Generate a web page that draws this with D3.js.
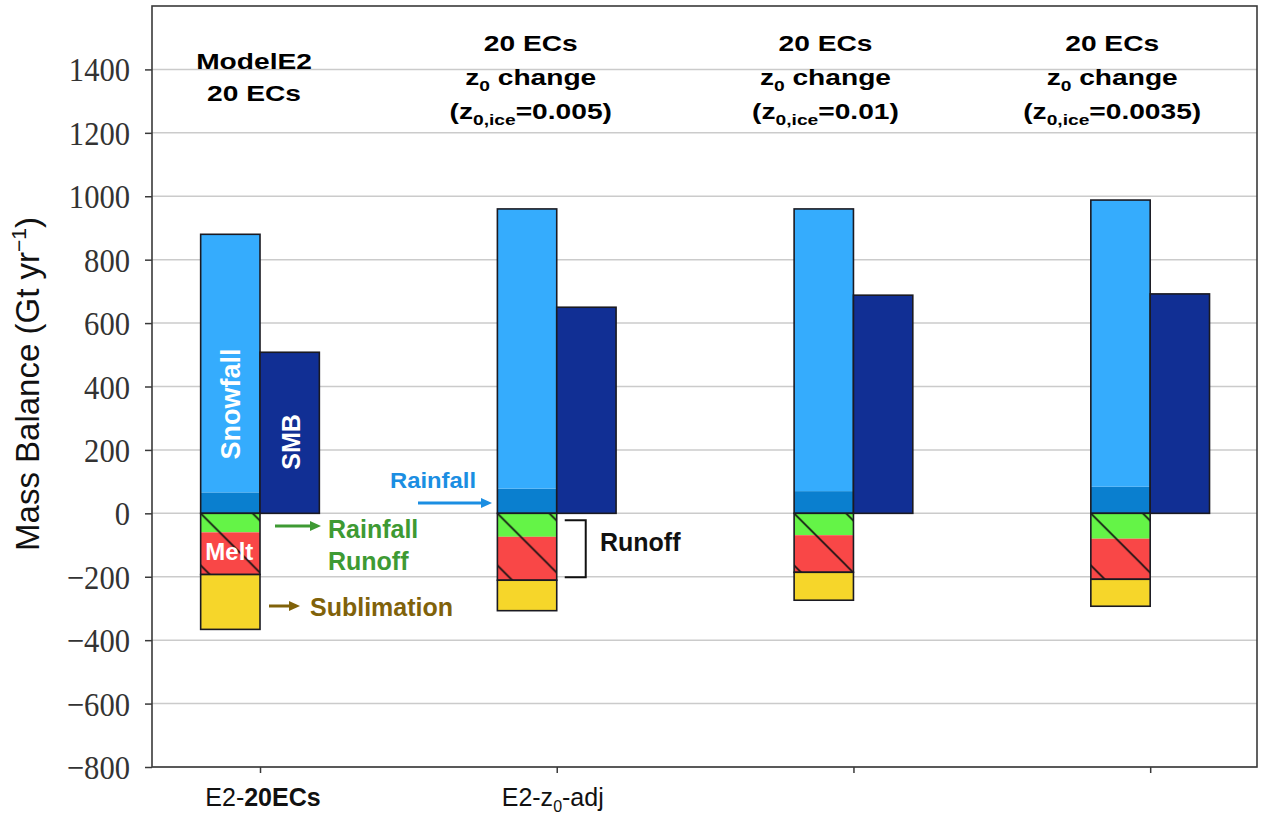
<!DOCTYPE html>
<html>
<head>
<meta charset="utf-8">
<script src="https://cdn.jsdelivr.net/npm/d3@7"></script>
<style>
  html, body { margin: 0; padding: 0; background: #ffffff; }
  svg { display: block; }
  .ytick text { font-family: "Liberation Serif", "DejaVu Serif", serif !important; font-size: 34px !important; }
</style>
</head>
<body>
<svg id="chart" width="1269" height="814"></svg>
<script>
// ---- data (Gt/yr) ----
const experiments = ["E2-20ECs", "E2-z0-adj", "", ""];
const snowfall = [814, 882, 890, 904];
const rainfall = [66, 78, 70, 84];
const smb = [508, 650, 688, 692];
const rainfallRunoff = [60, 74, 69, 80];
const meltRunoff = [133, 137, 117, 128];
const sublimation = [173, 96, 88, 85];
const yTicks = [-800, -600, -400, -200, 0, 200, 400, 600, 800, 1000, 1200, 1400];
const titles = [
  ["ModelE2", "20 ECs"],
  ["20 ECs", "z_{0} change", "(z_{0,ice}=0.005)"],
  ["20 ECs", "z_{0} change", "(z_{0,ice}=0.01)"],
  ["20 ECs", "z_{0} change", "(z_{0,ice}=0.0035)"]
];

// ---- colours ----
const C = {
  snow: "#35acfd", rain: "#0a7fcf", smb: "#112f94",
  green: "#64f447", red: "#f94747", yellow: "#f6d62a",
  edge: "#1a1a22", grid: "#cbcbcb", axis: "#3a3a3a",
  rainTxt: "#1b8ee2", runoffTxt: "#3e9a33", sublTxt: "#80620a"
};

const svg = d3.select("#chart");
const L = 152, R = 1257, T = 6, B = 767;
const x = d3.scaleLinear().domain([-0.364, 3.36]).range([L, R]);
const y = d3.scaleLinear().domain([-800, 1600]).range([B, T]);
const bw = 0.2; // bar width in category units

// parse "text_{sub}" into segments
function segs(s) {
  const out = [];
  const re = /_\{([^}]*)\}/g;
  let last = 0, m;
  while ((m = re.exec(s)) !== null) {
    if (m.index > last) out.push({ t: s.slice(last, m.index), sub: false });
    out.push({ t: m[1], sub: true });
    last = re.lastIndex;
  }
  if (last < s.length) out.push({ t: s.slice(last), sub: false });
  return out;
}
function addRich(textSel, s, subSize, shift) {
  let down = false;
  segs(s).forEach(p => {
    const ts = textSel.append("tspan").text(p.t);
    if (p.sub && !down) { ts.attr("font-size", subSize).attr("dy", shift); down = true; }
    else if (!p.sub && down) { ts.attr("dy", -shift); down = false; }
  });
}

// ---- hatch patterns (one per group, anchored at the runoff box corner) ----
const defs = svg.append("defs");
const hs = 52;
experiments.forEach((_, i) => {
  const p = defs.append("pattern")
    .attr("id", "hatch" + i)
    .attr("patternUnits", "userSpaceOnUse")
    .attr("x", x(i - bw)).attr("y", y(0))
    .attr("width", hs).attr("height", hs);
  p.append("path")
    .attr("d", `M-6,-6L${hs + 6},${hs + 6}M-6,${hs - 6}L6,${hs + 6}M${hs - 6},-6L${hs + 6},6`)
    .attr("stroke", "#111").attr("stroke-width", 1.6).attr("fill", "none");
});

// ---- grid ----
svg.append("g").selectAll("line").data(yTicks).join("line")
  .attr("x1", L).attr("x2", R)
  .attr("y1", d => y(d)).attr("y2", d => y(d))
  .attr("stroke", C.grid).attr("stroke-width", 1.5);

// ---- bars ----
const g = svg.append("g");
experiments.forEach((_, i) => {
  const x0 = x(i - bw), x1 = x(i), x2 = x(i + bw);
  const precip = rainfall[i] + snowfall[i];
  const runoff = rainfallRunoff[i] + meltRunoff[i];

  // precipitation column: rainfall at the base, snowfall above
  g.append("rect").attr("x", x0).attr("width", x1 - x0)
    .attr("y", y(rainfall[i])).attr("height", y(0) - y(rainfall[i]))
    .attr("fill", C.rain);
  g.append("rect").attr("x", x0).attr("width", x1 - x0)
    .attr("y", y(precip)).attr("height", y(rainfall[i]) - y(precip))
    .attr("fill", C.snow);
  g.append("rect").attr("x", x0).attr("width", x1 - x0)
    .attr("y", y(precip)).attr("height", y(0) - y(precip))
    .attr("fill", "none").attr("stroke", C.edge).attr("stroke-width", 1.6);

  // SMB
  g.append("rect").attr("x", x1).attr("width", x2 - x1)
    .attr("y", y(smb[i])).attr("height", y(0) - y(smb[i]))
    .attr("fill", C.smb).attr("stroke", C.edge).attr("stroke-width", 1.6);

  // runoff: rainfall runoff (green) over melt runoff (red), hatched
  g.append("rect").attr("x", x0).attr("width", x1 - x0)
    .attr("y", y(0)).attr("height", y(-rainfallRunoff[i]) - y(0))
    .attr("fill", C.green);
  g.append("rect").attr("x", x0).attr("width", x1 - x0)
    .attr("y", y(-rainfallRunoff[i])).attr("height", y(-runoff) - y(-rainfallRunoff[i]))
    .attr("fill", C.red);
  g.append("rect").attr("x", x0).attr("width", x1 - x0)
    .attr("y", y(0)).attr("height", y(-runoff) - y(0))
    .attr("fill", `url(#hatch${i})`).attr("stroke", C.edge).attr("stroke-width", 1.6);

  // sublimation
  g.append("rect").attr("x", x0).attr("width", x1 - x0)
    .attr("y", y(-runoff)).attr("height", y(-runoff - sublimation[i]) - y(-runoff))
    .attr("fill", C.yellow).attr("stroke", C.edge).attr("stroke-width", 1.6);
});

// ---- axes ----
const yAxis = d3.axisLeft(y).tickValues(yTicks).tickSize(7).tickPadding(15)
  .tickFormat(d => d < 0 ? "\u2212" + Math.abs(d) : String(d));
const ya = svg.append("g").attr("class", "ytick")
  .attr("transform", `translate(${L},0)`).call(yAxis);
ya.select(".domain").remove();
ya.selectAll(".tick line").attr("stroke", C.axis).attr("stroke-width", 1.5);
ya.selectAll(".tick text")
  .attr("fill", "#333")
  .attr("x", -22 / 0.9).attr("dy", "0.34em")
  .attr("transform", "scale(0.9,1)");

const xa = svg.append("g").attr("transform", `translate(0,${B})`)
  .call(d3.axisBottom(x).tickValues([0, 1, 2, 3]).tickSize(6).tickFormat(""));
xa.select(".domain").remove();
xa.selectAll(".tick line").attr("stroke", C.axis).attr("stroke-width", 1.5);

// frame
svg.append("rect").attr("x", L).attr("y", T).attr("width", R - L).attr("height", B - T)
  .attr("fill", "none").attr("stroke", C.axis).attr("stroke-width", 1.6);

// x tick labels
const xl = svg.append("g").attr("font-family", "'Liberation Sans', Arial, sans-serif")
  .attr("font-size", 25).attr("fill", "#111");
{
  const t0 = xl.append("text").attr("x", x(0) + 3).attr("y", 806).attr("text-anchor", "middle");
  t0.append("tspan").text("E2-");
  t0.append("tspan").attr("font-weight", "bold").text("20ECs");
  const t1 = xl.append("text").attr("x", x(1) - 4).attr("y", 806).attr("text-anchor", "middle");
  addRich(t1, "E2-z_{0}-adj", 16, 6);
}

// y label
const yl = svg.append("text")
  .attr("transform", "translate(39,384) rotate(-90)")
  .attr("text-anchor", "middle")
  .attr("font-family", "'Liberation Sans', Arial, sans-serif")
  .attr("font-size", 33).attr("fill", "#111");
yl.append("tspan").text("Mass Balance (Gt yr");
yl.append("tspan").attr("font-size", 21).attr("dy", -13).text("\u22121");
yl.append("tspan").attr("dy", 13).text(")");

// ---- group titles ----
const titleDx = [-6, -26, -28, -38];
titles.forEach((lines, i) => {
  const base = lines.length === 2 ? [69, 101] : [51, 85, 119];
  lines.forEach((s, k) => {
    const tg = svg.append("g").attr("transform", `translate(${x(i) + titleDx[i]},${base[k]}) scale(1.28,1)`);
    const t = tg.append("text").attr("text-anchor", "middle")
      .attr("font-family", "'Liberation Sans', Arial, sans-serif")
      .attr("font-weight", "bold").attr("font-size", 22).attr("fill", "#000");
    addRich(t, s, 15, 6);
  });
});

// ---- in-bar labels ----
const lab = svg.append("g").attr("font-family", "'Liberation Sans', Arial, sans-serif")
  .attr("font-weight", "bold").attr("fill", "#fff");
lab.append("text").attr("transform", `translate(${x(-bw / 2) + 10},404) rotate(-90)`)
  .attr("text-anchor", "middle").attr("font-size", 27).text("Snowfall");
lab.append("text").attr("transform", `translate(${x(bw / 2) + 10},442) rotate(-90)`)
  .attr("text-anchor", "middle").attr("font-size", 25).text("SMB");
lab.append("text").attr("x", x(-bw / 2) - 1).attr("y", 560)
  .attr("text-anchor", "middle").attr("font-size", 24).text("Melt");

// ---- annotations ----
function arrow(x1, x2, yy, color, head) {
  svg.append("line").attr("x1", x1).attr("x2", x2 - head).attr("y1", yy).attr("y2", yy)
    .attr("stroke", color).attr("stroke-width", 3);
  svg.append("path")
    .attr("d", `M${x2},${yy}L${x2 - head},${yy - 5}L${x2 - head},${yy + 5}Z`)
    .attr("fill", color);
}
const ann = svg.append("g").attr("font-family", "'Liberation Sans', Arial, sans-serif")
  .attr("font-weight", "bold");

// rainfall pointer
ann.append("text").attr("x", 390).attr("y", 488).attr("font-size", 22)
  .attr("fill", C.rainTxt).attr("textLength", 86).attr("lengthAdjust", "spacingAndGlyphs").text("Rainfall");
arrow(418, 492, 503, C.rainTxt, 11);

// rainfall runoff pointer
arrow(275, 321, 526, C.runoffTxt, 11);
ann.append("text").attr("x", 328).attr("y", 538).attr("font-size", 25)
  .attr("fill", C.runoffTxt).text("Rainfall");
ann.append("text").attr("x", 328).attr("y", 570).attr("font-size", 25)
  .attr("fill", C.runoffTxt).text("Runoff");

// sublimation pointer
arrow(269, 300, 606, C.sublTxt, 11);
ann.append("text").attr("x", 310).attr("y", 616).attr("font-size", 25)
  .attr("fill", C.sublTxt).text("Sublimation");

// runoff bracket on the second group
{
  const bx0 = x(1) + 8, bx1 = x(1) + 29;
  const by0 = y(0) + 7, by1 = y(-(rainfallRunoff[1] + meltRunoff[1])) - 3;
  svg.append("path").attr("d", `M${bx0},${by0}H${bx1}V${by1}H${bx0}`)
    .attr("fill", "none").attr("stroke", "#111").attr("stroke-width", 2);
  ann.append("text").attr("x", 600).attr("y", 551).attr("font-size", 25)
    .attr("fill", "#111").text("Runoff");
}
</script>
</body>
</html>
